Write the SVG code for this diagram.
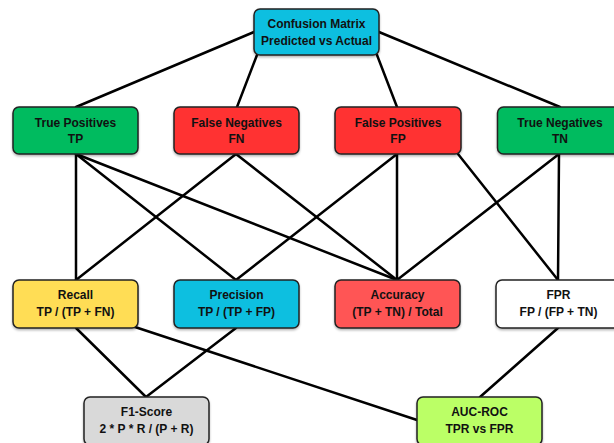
<svg xmlns="http://www.w3.org/2000/svg" width="614" height="443" viewBox="0 0 614 443">
<style>
.box{stroke:#222;stroke-width:1.5;filter:url(#sh)}
.t{font-family:"Liberation Sans",Arial,sans-serif;font-size:12px;font-weight:bold;fill:#111;text-anchor:middle}
.e line{stroke:#000;stroke-width:2.5;stroke-linecap:round}
</style>
<defs>
<filter id="sh" x="-10%" y="-10%" width="120%" height="130%">
<feDropShadow dx="0" dy="1.5" stdDeviation="1" flood-color="#000" flood-opacity="0.3"/>
</filter>
</defs>
<rect width="614" height="443" fill="#fff"/>
<g class="e" id="connectors">
<line x1="254" y1="32" x2="76" y2="107"/>
<line x1="257" y1="55" x2="237" y2="107"/>
<line x1="377" y1="55" x2="397" y2="107"/>
<line x1="379" y1="32" x2="560" y2="107"/>
<line x1="76" y1="154" x2="76" y2="280"/>
<line x1="76" y1="154" x2="236" y2="280"/>
<line x1="76" y1="154" x2="397" y2="280"/>
<line x1="236" y1="154" x2="76" y2="280"/>
<line x1="236" y1="154" x2="397" y2="280"/>
<line x1="397" y1="154" x2="236" y2="280"/>
<line x1="397" y1="154" x2="397" y2="280"/>
<line x1="458" y1="154" x2="558" y2="280"/>
<line x1="559" y1="154" x2="397" y2="280"/>
<line x1="559" y1="154" x2="558" y2="280"/>
<line x1="76" y1="328" x2="146" y2="397"/>
<line x1="135" y1="327" x2="417" y2="420"/>
<line x1="236" y1="328" x2="146" y2="397"/>
<line x1="558" y1="328" x2="480" y2="397"/>
</g>
<g id="cm"><rect class="box" x="254" y="9" width="125" height="46" rx="6" fill="#0BBFE0"/><text class="t" x="316.5" y="28">Confusion Matrix</text><text class="t" x="316.5" y="45">Predicted vs Actual</text></g>
<g id="tp"><rect class="box" x="13" y="107" width="125" height="47" rx="6" fill="#00BB5E"/><text class="t" x="75.5" y="127">True Positives</text><text class="t" x="75.5" y="143">TP</text></g>
<g id="fn"><rect class="box" x="174" y="107" width="125" height="47" rx="6" fill="#FF3333"/><text class="t" x="236.5" y="127">False Negatives</text><text class="t" x="236.5" y="143">FN</text></g>
<g id="fp"><rect class="box" x="335" y="107" width="126" height="47" rx="6" fill="#FF3333"/><text class="t" x="398" y="127">False Positives</text><text class="t" x="398" y="143">FP</text></g>
<g id="tn"><rect class="box" x="497.5" y="107" width="125" height="47" rx="6" fill="#00BB5E"/><text class="t" x="560" y="127">True Negatives</text><text class="t" x="560" y="143">TN</text></g>
<g id="recall"><rect class="box" x="13" y="280" width="125" height="48" rx="6" fill="#FFDD55"/><text class="t" x="75.5" y="299">Recall</text><text class="t" x="75.5" y="316">TP / (TP + FN)</text></g>
<g id="precision"><rect class="box" x="174" y="280" width="125" height="48" rx="6" fill="#0BBFE0"/><text class="t" x="236.5" y="299">Precision</text><text class="t" x="236.5" y="316">TP / (TP + FP)</text></g>
<g id="accuracy"><rect class="box" x="335" y="280" width="125" height="48" rx="6" fill="#FF5555"/><text class="t" x="397.5" y="299">Accuracy</text><text class="t" x="397.5" y="316">(TP + TN) / Total</text></g>
<g id="fpr"><rect class="box" x="496" y="280" width="125" height="48" rx="6" fill="#FFFFFF"/><text class="t" x="558.5" y="299">FPR</text><text class="t" x="558.5" y="316">FP / (FP + TN)</text></g>
<g id="f1"><rect class="box" x="84" y="397" width="125" height="48" rx="6" fill="#D9D9D9"/><text class="t" x="146.5" y="416">F1-Score</text><text class="t" x="146.5" y="433">2 * P * R / (P + R)</text></g>
<g id="auc"><rect class="box" x="417" y="397" width="125" height="48" rx="6" fill="#BBFF66"/><text class="t" x="479.5" y="416">AUC-ROC</text><text class="t" x="479.5" y="433">TPR vs FPR</text></g>
</svg>
